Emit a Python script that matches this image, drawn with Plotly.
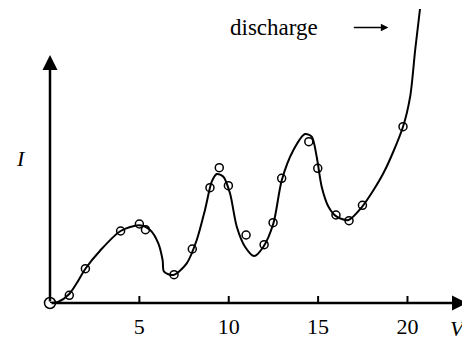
import plotly.graph_objects as go

# Measured data points (V in volts, I in arbitrary units)
V_points = [0.0, 1.08, 1.98, 3.95, 5.00, 5.34, 6.94, 7.96, 8.95, 9.47, 9.98,
            10.97, 11.98, 12.48, 12.96, 14.48, 14.98, 16.00, 16.73, 17.48, 19.75]
I_points = [0.0, 0.77, 3.43, 7.20, 7.90, 7.33, 2.83, 5.40, 11.53, 13.53, 11.73,
            6.80, 5.83, 8.03, 12.47, 16.13, 13.47, 8.80, 8.23, 9.77, 17.63]

# Hand-drawn smooth curve through the data
V_curve = [0.0, 0.47, 1.08, 1.49, 1.98, 2.80, 3.95, 5.00, 5.60, 6.06, 6.30, 6.38,
           6.90, 7.65, 8.21, 8.67, 9.05, 9.33, 9.70, 10.07, 10.45, 10.91, 11.42,
           11.94, 12.50, 12.97, 13.62, 14.27, 14.64, 14.92, 15.20, 15.58, 16.04,
           16.70, 17.44, 18.65, 19.75, 20.15, 20.43, 20.70]
I_curve = [0.0, 0.13, 0.90, 1.97, 3.43, 5.23, 7.20, 7.77, 7.30, 5.97, 4.30, 3.13,
           2.80, 3.97, 6.30, 9.30, 12.13, 12.90, 12.63, 10.97, 7.63, 5.63, 4.70,
           5.63, 7.97, 12.30, 15.30, 16.90, 16.63, 14.63, 11.63, 9.63, 8.63,
           8.30, 9.57, 12.97, 17.63, 20.63, 25.30, 29.40]

tick_vals = [5, 10, 15, 20]
tick_text = ["5", "10", "15", "20"]

X_MAX = 23.33
Y_MAX = 29.5
Y_ARROW = 24.8

FONT = "Liberation Serif"
W, H = 462, 333
ML, MR, MT, MB = 42, 3, 0, 38
PLOT_W = W - ML - MR
PLOT_H = H - MT - MB

fig = go.Figure()
fig.add_trace(go.Scatter(x=V_curve, y=I_curve, mode="lines",
                         line=dict(color="black", width=2, shape="spline", smoothing=0.8),
                         hoverinfo="skip", cliponaxis=False))
fig.add_trace(go.Scatter(x=V_points[1:], y=I_points[1:], mode="markers",
                         marker=dict(symbol="circle-open", size=8, color="black",
                                     line=dict(width=1.5, color="black")),
                         cliponaxis=False))
fig.add_trace(go.Scatter(x=V_points[:1], y=I_points[:1], mode="markers",
                         marker=dict(symbol="circle-open", size=11, color="black",
                                     line=dict(width=1.5, color="black")),
                         cliponaxis=False))

annotations = [
    # x axis arrow
    dict(x=1, y=0, ax=-PLOT_W, ay=0, xref="paper", yref="paper",
         showarrow=True, arrowhead=2, arrowsize=1.2, arrowwidth=2.5,
         arrowcolor="black", text="", standoff=0),
    # y axis arrow
    dict(x=0, y=Y_ARROW / Y_MAX, ax=0, ay=PLOT_H * Y_ARROW / Y_MAX,
         xref="paper", yref="paper",
         showarrow=True, arrowhead=2, arrowsize=1.2, arrowwidth=2.5,
         arrowcolor="black", text="", standoff=0),
    # discharge arrow
    dict(x=18.93, y=27.55, ax=-36, ay=0, xref="x", yref="y",
         showarrow=True, arrowhead=2, arrowsize=1, arrowwidth=1.5,
         arrowcolor="black", text="", standoff=0),
    dict(x=12.53, y=27.6, xref="x", yref="y", text="discharge", showarrow=False,
         font=dict(family=FONT, size=23, color="black"), xanchor="center", yanchor="middle"),
    dict(x=-29 / PLOT_W, y=(303 - 150 - 8) / PLOT_H, xref="paper", yref="paper",
         text="<i>I</i>", showarrow=False,
         font=dict(family=FONT, size=22, color="black"), xanchor="center", yanchor="middle"),
    dict(x=22.83, y=0, xref="x", yref="y", yshift=-25, text="<i>V</i>", showarrow=False,
         font=dict(family=FONT, size=22, color="black"), xanchor="center", yanchor="middle"),
]

shapes = [dict(type="line", xref="x", yref="y", x0=v, x1=v, ysizemode="pixel",
               yanchor=0, y0=-7, y1=7, line=dict(color="black", width=2))
          for v in tick_vals]

fig.update_layout(
    width=W, height=H,
    margin=dict(l=ML, r=MR, t=MT, b=MB, pad=0),
    paper_bgcolor="white", plot_bgcolor="white",
    font=dict(family=FONT, color="black"),
    showlegend=False,
    annotations=annotations,
    shapes=shapes,
    xaxis=dict(range=[0, X_MAX], showgrid=False, zeroline=False, showline=False,
               tickvals=tick_vals, ticktext=tick_text, ticks="",
               ticklabelstandoff=8,
               tickfont=dict(family=FONT, size=22, color="black")),
    yaxis=dict(range=[0, Y_MAX], showgrid=False, zeroline=False, showline=False,
               showticklabels=False, ticks=""),
)

fig.write_html("out.html")
